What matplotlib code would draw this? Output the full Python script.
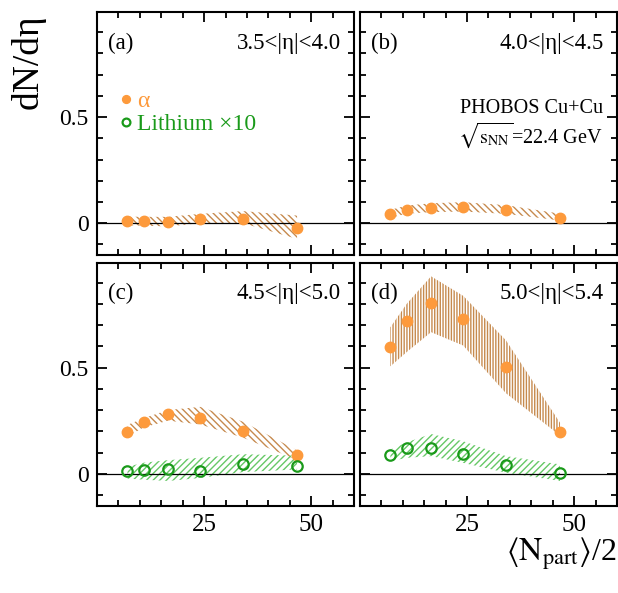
import matplotlib
matplotlib.use('Agg')
import matplotlib.pyplot as plt
from matplotlib.ticker import MultipleLocator, FuncFormatter

plt.rcParams['font.family'] = ['Liberation Serif', 'DejaVu Serif']
plt.rcParams['mathtext.fontset'] = 'stix'
plt.rcParams['hatch.linewidth'] = 1.0

# <Npart>/2 of the centrality bins
npart_half = [7.1, 10.9, 16.6, 24.1, 34.1, 46.7]

eta_labels = ['3.5<|η|<4.0', '4.0<|η|<4.5', '4.5<|η|<5.0', '5.0<|η|<5.4']
panel_tags = ['(a)', '(b)', '(c)', '(d)']

# alpha dN/deta, with systematic band (lo, hi)
alpha_a = [0.009, 0.009, 0.005, 0.020, 0.020, -0.022]
alpha_a_lo = [-0.010, -0.012, -0.015, 0.000, 0.000, -0.074]
alpha_a_hi = [0.031, 0.030, 0.030, 0.044, 0.057, 0.036]

alpha_b = [0.044, 0.064, 0.072, 0.075, 0.063, 0.025]
alpha_b_lo = [0.025, 0.045, 0.052, 0.055, 0.044, 0.013]
alpha_b_hi = [0.063, 0.083, 0.094, 0.099, 0.085, 0.045]

alpha_c = [0.195, 0.245, 0.280, 0.261, 0.203, 0.089]
alpha_c_lo = [0.175, 0.218, 0.250, 0.232, 0.170, 0.065]
alpha_c_hi = [0.230, 0.262, 0.300, 0.315, 0.245, 0.110]

alpha_d = [0.597, 0.718, 0.804, 0.730, 0.503, 0.195]
alpha_d_lo = [0.506, 0.573, 0.667, 0.604, 0.379, 0.180]
alpha_d_hi = [0.690, 0.800, 0.930, 0.838, 0.628, 0.240]

# lithium x10 (only in c and d)
li_c = [0.011, 0.017, 0.020, 0.014, 0.045, 0.038]
li_c_lo = [-0.023, -0.028, -0.034, -0.020, 0.008, 0.020]
li_c_hi = [0.033, 0.052, 0.064, 0.075, 0.092, 0.085]

li_d = [0.087, 0.120, 0.121, 0.095, 0.039, 0.003]
li_d_lo = [0.059, 0.075, 0.083, 0.051, 0.005, -0.034]
li_d_hi = [0.114, 0.148, 0.187, 0.153, 0.083, 0.044]

alpha_sets = [(alpha_a, alpha_a_lo, alpha_a_hi), (alpha_b, alpha_b_lo, alpha_b_hi),
              (alpha_c, alpha_c_lo, alpha_c_hi), (alpha_d, alpha_d_lo, alpha_d_hi)]
li_sets = [None, None, (li_c, li_c_lo, li_c_hi), (li_d, li_d_lo, li_d_hi)]

orange = '#fd9a3c'
orange_band = '#c68a4e'
green = '#1a9a1a'
green_band = '#66c866'

fig, axes = plt.subplots(2, 2, figsize=(6.18, 5.93), dpi=100, sharex=True, sharey=True)
fig.subplots_adjust(left=97/618, right=617/618, top=1-12/593, bottom=1-506/593,
                    wspace=0.023, hspace=0.029)

for i, ax in enumerate(axes.flat):
    y, lo, hi = alpha_sets[i]
    hatch = '||||||' if i == 3 else '\\\\\\\\\\'
    ax.fill_between(npart_half, lo, hi, facecolor='none', edgecolor=orange_band,
                    hatch=hatch, linewidth=0, zorder=1)
    ax.axhline(0, color='k', lw=0.9, zorder=2)
    ax.plot(npart_half, y, 'o', color=orange, ms=7.5, mec=orange, zorder=3, label='α')
    if li_sets[i] is not None:
        ly, llo, lhi = li_sets[i]
        ax.fill_between(npart_half, llo, lhi, facecolor='none', edgecolor=green_band,
                        hatch='/////', linewidth=0, zorder=1)
        ax.plot(npart_half, ly, 'o', mfc='none', mec=green, mew=1.6, ms=7.5, zorder=3)

    ax.text(0.043, 0.872, panel_tags[i], transform=ax.transAxes, fontsize=16.5,
            ha='left', va='center')
    ax.text(0.948, 0.872, eta_labels[i], transform=ax.transAxes, fontsize=16.5,
            ha='right', va='center')

    ax.set_xlim(0, 60)
    ax.set_ylim(-0.152, 0.995)
    ax.set_xticks([25, 50])
    ax.xaxis.set_minor_locator(MultipleLocator(5))
    ax.yaxis.set_major_locator(MultipleLocator(0.5))
    ax.yaxis.set_minor_locator(MultipleLocator(0.1))
    ax.yaxis.set_major_formatter(FuncFormatter(lambda v, p: '0' if v == 0 else f'{v:g}'))
    ax.tick_params(which='both', direction='in', top=True, right=True, width=1.3)
    ax.tick_params(which='major', length=7.5)
    ax.tick_params(which='minor', length=4)
    ax.tick_params(axis='x', labelsize=18, pad=6)
    ax.tick_params(axis='y', labelsize=17, pad=6)
    for s in ax.spines.values():
        s.set_linewidth(1.5)

# legend in panel (a)
ax = axes[0, 0]
ax.plot([], [], 'o', mfc='none', mec=green, mew=1.6, ms=7.5, label='Lithium ×10')
ax.legend(loc='upper left', bbox_to_anchor=(0.045, 0.725), frameon=False, fontsize=17,
          handlelength=0.5, handletextpad=0.2, labelspacing=0.05, borderpad=0,
          markerscale=0.75, labelcolor='markeredgecolor')

# experiment label in panel (b)
ax = axes[0, 1]
ax.text(0.945, 0.605, 'PHOBOS Cu+Cu', transform=ax.transAxes, fontsize=14.5,
        ha='right', va='center')
ax.text(0.945, 0.495, r'$\sqrt{\mathrm{s}_{\mathrm{NN}}}$=22.4 GeV', transform=ax.transAxes,
        fontsize=14.5, ha='right', va='center')

fig.text(28/618, 1-14/593, 'dN/dη', rotation=90, fontsize=27, ha='center', va='top')
fig.text(617/618, 1-561/593, r'$\langle\mathrm{N}_{\mathrm{part}}\rangle$/2', fontsize=23,
         ha='right', va='baseline')

fig.savefig('out.png', dpi=100)
